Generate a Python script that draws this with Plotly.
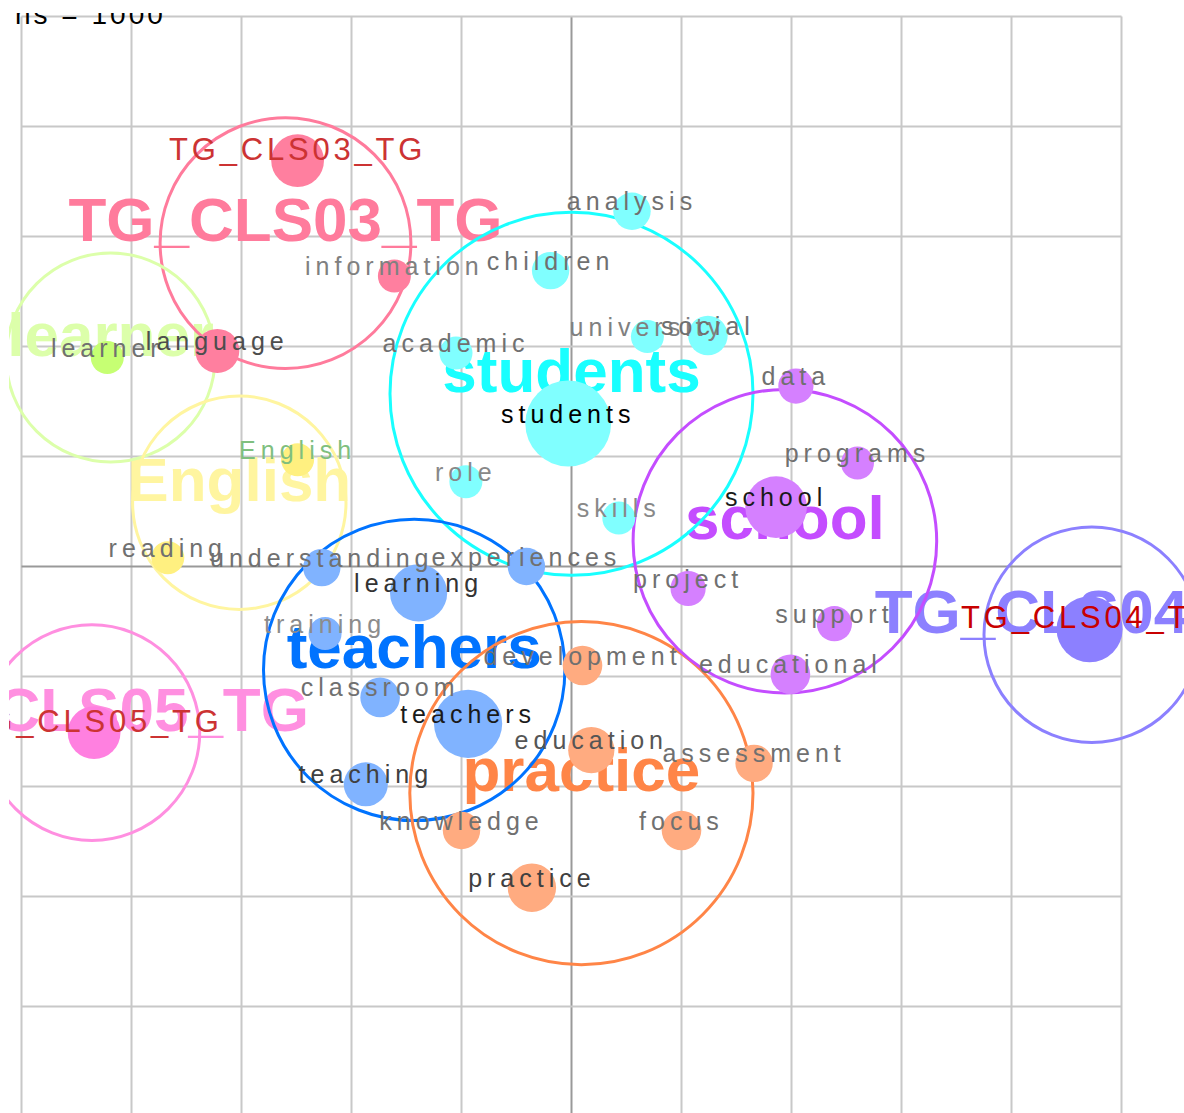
import plotly.graph_objects as go

W, H = 1184, 1113
PX = 110.0               # pixels per grid unit
X0, Y0 = 571.5, 566.5    # pixel position of the origin
LEFT, TOP = 9, 13        # plot area starts here (content is clipped there)

NOTE = "ns = 1000"

# clusters: big ring + big label
clusters = ["TG_CLS03_TG", "learner", "English", "students", "teachers",
            "practice", "school", "TG_CLS04_TG", "TG_CLS05_TG"]
cluster_x = [-2.60, -4.19, -3.02, 0.00, -1.43, 0.09, 1.94, 4.73, -4.36]
cluster_y = [2.94, 1.90, 0.58, 1.57, -0.94, -2.06, 0.23, -0.62, -1.51]
cluster_r = [1.14, 0.95, 0.97, 1.65, 1.37, 1.56, 1.38, 0.98, 0.98]

# member words: name, cluster, position, radius (grid units)
words = ["TG_CLS03_TG", "information", "language",
         "learner",
         "English", "reading",
         "students", "analysis", "children", "university", "social",
         "academic", "role", "skills",
         "teachers", "learning", "understanding", "experiences", "training",
         "classroom", "teaching",
         "development", "education", "assessment", "knowledge", "focus",
         "practice",
         "data", "programs", "school", "project", "support", "educational",
         "TG_CLS04_TG",
         "TG_CLS05_TG"]
word_cluster = ["TG_CLS03_TG"] * 3 + ["learner"] + ["English"] * 2 + \
               ["students"] * 8 + ["teachers"] * 7 + ["practice"] * 6 + \
               ["school"] * 6 + ["TG_CLS04_TG"] + ["TG_CLS05_TG"]
word_x = [-2.49, -1.61, -3.22,
          -4.22,
          -2.49, -3.67,
          -0.03, 0.55, -0.19, 0.69, 1.24, -1.05, -0.96, 0.43,
          -0.94, -1.39, -2.27, -0.41, -2.24, -1.74, -1.87,
          0.10, 0.18, 1.66, -1.00, 1.00, -0.36,
          2.04, 2.60, 1.86, 1.06, 2.39, 1.99,
          4.71,
          -4.34]
word_y = [3.69, 2.64, 1.96,
          1.90,
          0.97, 0.08,
          1.30, 3.23, 2.69, 2.09, 2.10, 1.94, 0.77, 0.44,
          -1.43, -0.24, -0.01, 0.00, -0.61, -1.19, -1.98,
          -0.90, -1.67, -1.79, -2.40, -2.40, -2.92,
          1.64, 0.94, 0.54, -0.20, -0.52, -0.98,
          -0.57,
          -1.51]
word_r = [0.24, 0.15, 0.20,
          0.15,
          0.15, 0.15,
          0.39, 0.17, 0.17, 0.15, 0.18, 0.15, 0.15, 0.15,
          0.31, 0.26, 0.17, 0.17, 0.15, 0.18, 0.20,
          0.18, 0.21, 0.17, 0.17, 0.18, 0.22,
          0.16, 0.15, 0.28, 0.16, 0.16, 0.18,
          0.30,
          0.24]

# styles
ring_color = {"TG_CLS03_TG": "#ff7b9c", "learner": "#dcffaa", "English": "#fff5a0",
              "students": "#19ffff", "teachers": "#0073ff", "practice": "#ff8547",
              "school": "#c44dff", "TG_CLS04_TG": "#8c80ff", "TG_CLS05_TG": "#ff8fe0"}
node_color = {"TG_CLS03_TG": "#ff7f9f", "learner": "#c6ff73", "English": "#fff080",
              "students": "#80ffff", "teachers": "#80b3ff", "practice": "#ffab80",
              "school": "#d580ff", "TG_CLS04_TG": "#8c80ff", "TG_CLS05_TG": "#ff80e0"}
label_color = {"TG_CLS03_TG": "#cc3333", "TG_CLS05_TG": "#cc3333", "TG_CLS04_TG": "#c80000",
               "students": "#000000", "teachers": "#1a1a1a", "school": "#1a1a1a",
               "language": "#4d4d4d", "learning": "#333333", "teaching": "#404040",
               "practice": "#404040", "education": "#555555", "English": "#7fbf7f",
               "training": "#8c8c8c", "role": "#888888", "skills": "#888888",
               "information": "#808080", "university": "#808080"}
FONT = "Liberation Sans"
BIG_SIZE = 62
SMALL_SIZE, SMALL_LS = 25, 5
TG_SIZE, TG_LS = 31, 3.8

xr = [(LEFT - X0) / PX, (W - X0) / PX]
yr = [(Y0 - H) / PX, (Y0 - TOP) / PX]

fig = go.Figure()

# big cluster labels (baseline ~2px above ring centre)
fig.add_trace(go.Scatter(
    x=cluster_x, y=[v + (2 + 0.25 * BIG_SIZE) / PX for v in cluster_y],
    mode="text", text=clusters, textposition="middle center",
    textfont=dict(family=FONT, size=BIG_SIZE, weight="bold",
                  color=[ring_color[c] for c in clusters]),
    hoverinfo="skip", showlegend=False))

# cluster rings
fig.add_trace(go.Scatter(
    x=cluster_x, y=cluster_y, mode="markers",
    marker=dict(symbol="circle-open", size=[2 * r * PX for r in cluster_r],
                color=[ring_color[c] for c in clusters], opacity=1,
                line=dict(width=3, color=[ring_color[c] for c in clusters])),
    hoverinfo="skip", showlegend=False))

# word nodes
fig.add_trace(go.Scatter(
    x=word_x, y=word_y, mode="markers",
    marker=dict(size=[2 * r * PX for r in word_r], opacity=1,
                color=[node_color[c] for c in word_cluster], line=dict(width=0)),
    hoverinfo="skip", showlegend=False))

# word labels
is_tg = [w.startswith("TG_") for w in words]
sizes = [TG_SIZE if t else SMALL_SIZE for t in is_tg]
texts = ['<span style="letter-spacing:%spx">%s</span>' % (TG_LS if t else SMALL_LS, w)
         for w, t in zip(words, is_tg)]
fig.add_trace(go.Scatter(
    x=word_x, y=[v + (1 + 0.25 * s) / PX for v, s in zip(word_y, sizes)],
    mode="text", text=texts, textposition="middle center",
    textfont=dict(family=FONT, size=sizes,
                  color=[label_color.get(w, "#707070") for w in words]),
    hoverinfo="skip", showlegend=False))

# header note, cut by the top of the plot area
fig.add_trace(go.Scatter(
    x=[(15 - X0) / PX], y=[(Y0 - 16.5) / PX], mode="text",
    text=['<span style="letter-spacing:3px">%s</span>' % NOTE],
    textposition="middle right",
    textfont=dict(family=FONT, size=28, color="#000000"),
    hoverinfo="skip", showlegend=False))

shapes = []
for k in range(-5, 6):
    shapes.append(dict(type="line", xref="x", yref="y", x0=k, x1=k, y0=yr[0], y1=5,
                       line=dict(color="#999999" if k == 0 else "#c8c8c8", width=2),
                       layer="below"))
for k in range(-4, 6):
    shapes.append(dict(type="line", xref="x", yref="y", x0=-5, x1=5, y0=k, y1=k,
                       line=dict(color="#999999" if k == 0 else "#c8c8c8", width=2),
                       layer="below"))

fig.update_layout(
    width=W, height=H,
    margin=dict(l=LEFT, r=0, t=TOP, b=0, pad=0),
    paper_bgcolor="white", plot_bgcolor="white",
    xaxis=dict(range=xr, visible=False, fixedrange=True),
    yaxis=dict(range=yr, visible=False, fixedrange=True),
    shapes=shapes, showlegend=False,
)

fig.write_html("out.html", config={"displayModeBar": False},
               post_script="document.body.style.margin='0';")
